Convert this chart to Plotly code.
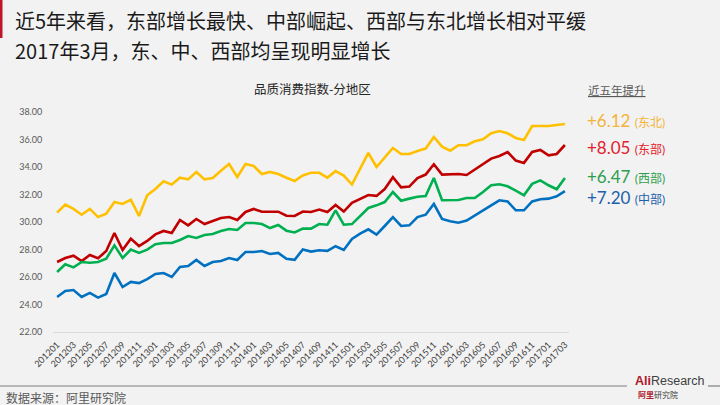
import plotly.graph_objects as go

months = [f"{y}{m:02d}" for y in range(2012, 2018) for m in range(1, 13)][:63]
tick_labels = months[::2]

northeast = [30.68, 31.26, 30.95, 30.53, 30.95, 30.36, 30.6, 31.45, 31.31, 31.62, 30.44, 31.94,
             32.4, 32.96, 32.72, 33.22, 33.1, 33.64, 33.1, 33.2, 33.73, 34.22, 33.27, 34.22,
             34.07, 33.49, 33.64, 33.49, 33.22, 32.98, 33.39, 33.58, 33.58, 33.23, 33.7, 33.38,
             32.72, 33.88, 35.02, 34.0, 34.7, 35.38, 34.95, 34.95, 35.17, 35.34, 36.18, 35.48,
             35.19, 35.58, 35.58, 35.87, 36.02, 36.45, 36.62, 36.45, 36.11, 35.97, 36.98, 36.98,
             36.98, 37.05, 37.13]
east = [27.09, 27.38, 27.55, 27.16, 27.6, 27.36, 27.89, 29.2, 27.96, 28.79, 28.25, 28.62,
        29.1, 29.35, 29.2, 30.15, 29.76, 30.22, 29.85, 30.07, 30.29, 30.36, 30.15, 30.73,
        30.95, 30.75, 30.75, 30.75, 30.46, 30.44, 30.76, 30.73, 30.91, 30.73, 31.24, 30.76,
        31.39, 31.7, 31.96, 31.9, 32.4, 33.26, 32.52, 32.58, 33.2, 33.45, 34.2, 33.45,
        33.45, 33.49, 33.42, 33.81, 34.17, 34.61, 34.8, 35.09, 34.47, 34.3, 35.09, 35.24,
        34.85, 34.95, 35.6]
west = [26.36, 26.92, 26.7, 27.09, 27.04, 27.09, 27.33, 28.3, 27.38, 27.99, 27.75, 27.99,
        28.38, 28.47, 28.47, 28.69, 28.98, 28.84, 29.05, 29.13, 29.35, 29.49, 29.42, 29.93,
        29.93, 29.85, 29.56, 29.78, 29.37, 29.24, 29.53, 29.52, 29.85, 29.8, 30.85, 29.8,
        29.85, 30.44, 31.02, 31.21, 31.45, 32.18, 31.55, 31.7, 31.84, 31.89, 33.2, 31.58,
        31.6, 31.6, 31.75, 31.75, 32.18, 32.67, 32.74, 32.6, 32.28, 31.94, 32.77, 33.03,
        32.67, 32.38, 33.2]
central = [24.55, 24.98, 25.05, 24.55, 24.84, 24.5, 24.76, 26.29, 25.27, 25.64, 25.56, 25.85,
           26.22, 26.29, 26.0, 26.73, 26.8, 27.24, 26.8, 27.09, 27.16, 27.38, 27.24, 27.82,
           27.82, 27.89, 27.67, 27.75, 27.32, 27.25, 28.0, 27.85, 27.95, 27.9, 28.24, 27.97,
           28.77, 29.16, 29.47, 29.08, 29.71, 30.36, 29.71, 29.76, 30.36, 30.53, 31.31, 30.22,
           30.05, 29.95, 30.1, 30.49, 30.85, 31.21, 31.58, 31.5, 30.85, 30.85, 31.5, 31.65,
           31.7, 31.87, 32.25]

series_names = ["东北", "东部", "西部", "中部"]
series_values = [northeast, east, west, central]
line_colors = ["#FFC000", "#C00000", "#00B050", "#0070C0"]
gains = ["+6.12", "+8.05", "+6.47", "+7.20"]
gain_colors = ["#F4B43A", "#E3202B", "#2E9E4F", "#2160A8"]
gain_y = [120, 147, 176, 197]

CJK = "Noto Sans CJK SC, Noto Sans, sans-serif"
NUM = "Lato, Noto Sans CJK SC, sans-serif"

W, H = 720, 405
ML, MR, MT, MB = 53, 151, 112, 73
PW, PH = W - ML - MR, H - MT - MB

fig = go.Figure()
for name, vals, col in zip(series_names, series_values, line_colors):
    fig.add_trace(go.Scatter(x=months, y=vals, mode="lines", name=name,
                             line=dict(color=col, width=2.6), showlegend=False))

fig.update_layout(
    width=W, height=H,
    paper_bgcolor="#F2F2F2", plot_bgcolor="#F2F2F2",
    margin=dict(l=ML, r=MR, t=MT, b=MB, autoexpand=False),
    font=dict(family=NUM, color="#404040"),
)
fig.update_xaxes(type="category", range=[-0.5, 62.5], tickmode="array",
                 tickvals=tick_labels, ticktext=tick_labels, tickangle=-45,
                 tickfont=dict(size=9, color="#404040", family=NUM),
                 showgrid=False, showline=True, linecolor="#D9D9D9", linewidth=1,
                 ticks="outside", ticklen=3, tickcolor="rgba(0,0,0,0)", zeroline=False,
                 automargin=False)
fig.update_yaxes(range=[22, 38], tickmode="linear", tick0=22, dtick=2, tickformat=".2f",
                 tickfont=dict(size=9, color="#595959", family=NUM),
                 showgrid=False, zeroline=False, showline=False,
                 ticks="outside", ticklen=8, tickcolor="rgba(0,0,0,0)", automargin=False)

def px_x(x):
    return (x - ML) / PW

def px_y(y):
    return 1 - (y - MT) / PH

ann = []
ann.append(dict(text="近5年来看，东部增长最快、中部崛起、西部与东北增长相对平缓",
                x=px_x(13), y=px_y(20), xanchor="left", yanchor="middle",
                font=dict(size=20, color="#1A1A1A", family=CJK)))
ann.append(dict(text="2017年3月，东、中、西部均呈现明显增长",
                x=px_x(13), y=px_y(50), xanchor="left", yanchor="middle",
                font=dict(size=20, color="#1A1A1A", family=CJK)))
ann.append(dict(text="品质消费指数-分地区", x=px_x(312), y=px_y(88),
                xanchor="center", yanchor="middle",
                font=dict(size=12.5, color="#262626", family=CJK)))
ann.append(dict(text="<u>近五年提升</u>", x=px_x(586), y=px_y(90),
                xanchor="left", yanchor="middle",
                font=dict(size=11.5, color="#595959", family=CJK)))
for g, nm, c, yy in zip(gains, series_names, gain_colors, gain_y):
    ann.append(dict(text=f"{g} <span style='font-size:12px'>({nm})</span>",
                    x=px_x(585), y=px_y(yy), xanchor="left", yanchor="middle",
                    font=dict(size=17, color=c, family=NUM)))
ann.append(dict(text="数据来源：阿里研究院", x=px_x(4), y=px_y(397),
                xanchor="left", yanchor="middle",
                font=dict(size=12, color="#595959", family=CJK)))
ann.append(dict(text="<b>Ali</b><span style='color:#404040'>Research</span>",
                x=px_x(633), y=px_y(381), xanchor="left", yanchor="middle",
                font=dict(size=12.5, color="#B0182A", family="Liberation Sans, sans-serif")))
ann.append(dict(text="<span style='color:#B0182A'><b>阿里</b></span>研究院",
                x=px_x(636), y=px_y(394), xanchor="left", yanchor="middle",
                font=dict(size=8, color="#404040", family=CJK)))
for a in ann:
    a.update(xref="paper", yref="paper", showarrow=False)
fig.update_layout(annotations=ann)

shapes = [
    dict(type="rect", xref="paper", yref="paper", x0=px_x(0), x1=px_x(2.5),
         y0=px_y(0), y1=px_y(38), fillcolor="#C0142A", line=dict(width=0)),
    dict(type="line", xref="paper", yref="paper", x0=px_x(0), x1=px_x(627),
         y0=px_y(386), y1=px_y(386), line=dict(color="#7F7F7F", width=1.2)),
    dict(type="line", xref="paper", yref="paper", x0=px_x(708), x1=px_x(720),
         y0=px_y(386), y1=px_y(386), line=dict(color="#7F7F7F", width=1.2)),
]
fig.update_layout(shapes=shapes)
fig.write_html("out.html", config={"displayModeBar": False},
               post_script="document.body.style.margin='0';document.body.style.overflow='hidden';")
